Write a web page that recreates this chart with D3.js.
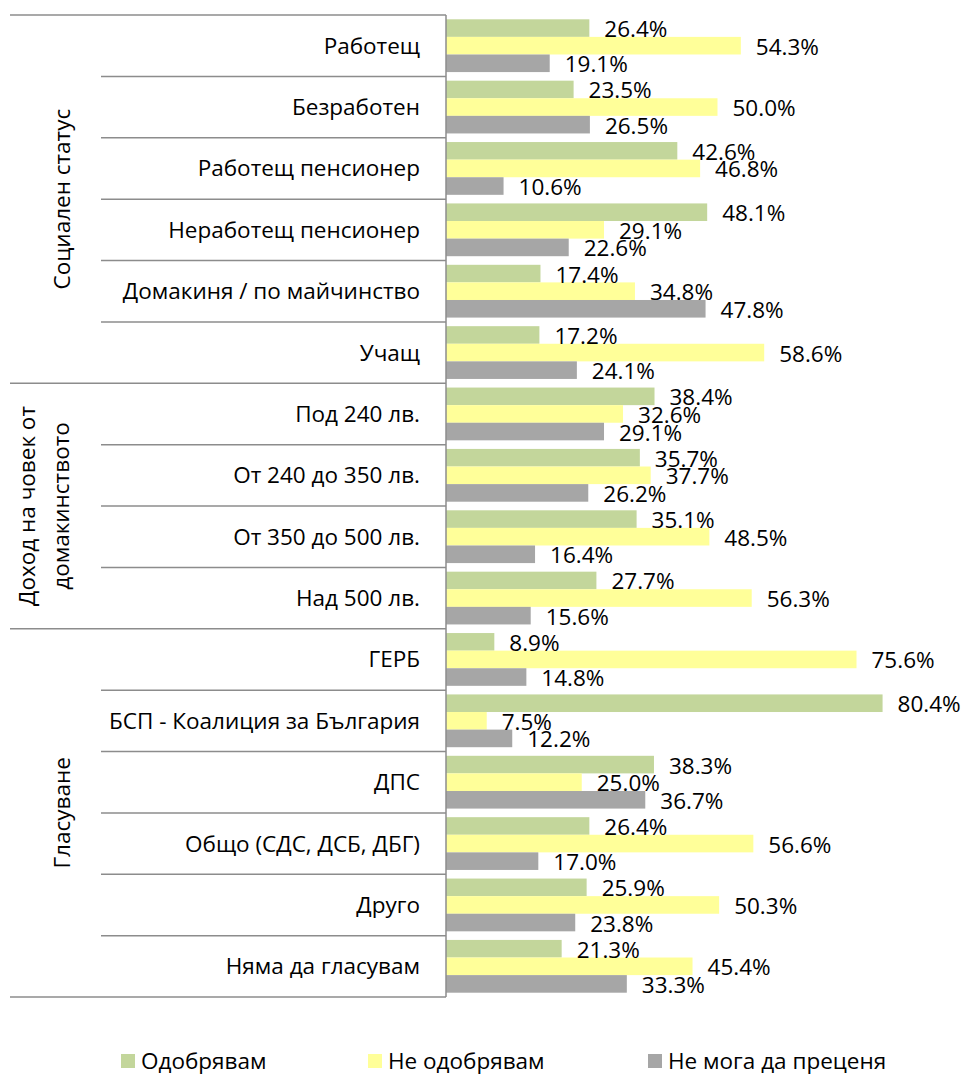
<!DOCTYPE html>
<html>
<head>
<meta charset="utf-8">
<script src="https://cdn.jsdelivr.net/npm/d3@7"></script>
<style>
    body { margin: 0; background: #fff; }
    svg text { font-family: "Open Sans", sans-serif; fill: #000; }
</style>
</head>
<body>
<div id="chart1"></div>
<script>
    // data
    const categories = [
        'Работещ', 'Безработен', 'Работещ пенсионер', 'Неработещ пенсионер',
        'Домакиня / по майчинство', 'Учащ',
        'Под 240 лв.', 'От 240 до 350 лв.', 'От 350 до 500 лв.', 'Над 500 лв.',
        'ГЕРБ', 'БСП - Коалиция за България', 'ДПС', 'Общо (СДС, ДСБ, ДБГ)',
        'Друго', 'Няма да гласувам'
    ];
    const approve = [26.4, 23.5, 42.6, 48.1, 17.4, 17.2, 38.4, 35.7, 35.1, 27.7, 8.9, 80.4, 38.3, 26.4, 25.9, 21.3];
    const disapprove = [54.3, 50.0, 46.8, 29.1, 34.8, 58.6, 32.6, 37.7, 48.5, 56.3, 75.6, 7.5, 25.0, 56.6, 50.3, 45.4];
    const cannotSay = [19.1, 26.5, 10.6, 22.6, 47.8, 24.1, 29.1, 26.2, 16.4, 15.6, 14.8, 12.2, 36.7, 17.0, 23.8, 33.3];
    const seriesNames = ['Одобрявам', 'Не одобрявам', 'Не мога да преценя'];
    const seriesColors = ['#c3d69b', '#ffff99', '#a6a6a6'];
    // groups: label lines and how many categories each spans
    const groupLabels = [['Социален статус'], ['Доход на човек от', 'домакинството'], ['Гласуване']];
    const groupSizes = [6, 4, 6];

    var chart_width = 966;
    var chart_height = 1075;

    let svg = d3.select('#chart1')
        .append('svg')
        .attr('width', chart_width)
        .attr('height', chart_height)

    const allSeries = [approve, disapprove, cannotSay];

    const y = d3.scaleBand()
        .domain(categories)
        .range([15, 997])

    const ySeries = d3.scaleBand()
        .domain(d3.range(3))
        .range([4.3, y.bandwidth() - 4.3])

    const x = d3.scaleLinear()
        .domain([0, 100])
        .range([446, 989])

    const rows = [];
    categories.forEach(function (c, i) {
        allSeries.forEach(function (s, k) {
            rows.push({ cat: c, k: k, v: s[i] });
        });
    });

    // bars
    svg.selectAll('rect.bar')
        .data(rows)
        .enter()
        .append('rect')
        .attr('class', 'bar')
        .attr('fill', d => seriesColors[d.k])
        .attr('x', x(0))
        .attr('y', d => y(d.cat) + ySeries(d.k))
        .attr('width', d => x(d.v) - x(0))
        .attr('height', ySeries.bandwidth())

    // value labels
    svg.selectAll('text.val')
        .data(rows)
        .enter()
        .append('text')
        .attr('class', 'val')
        .attr('font-size', 22.5)
        .attr('x', d => x(d.v) + 15)
        .attr('y', d => y(d.cat) + ySeries(d.k) + ySeries.bandwidth() / 2 + 9)
        .text(d => d.v.toFixed(1) + '%')

    // category separators
    const lineColor = '#8c8c8c';
    const boundaries = [0];
    groupSizes.forEach(function (n) { boundaries.push(boundaries[boundaries.length - 1] + n); });

    d3.range(categories.length + 1).forEach(function (i) {
        let yy = i < categories.length ? y(categories[i]) : y.range()[1];
        let isGroup = boundaries.indexOf(i) >= 0;
        svg.append('line')
            .attr('x1', isGroup ? 10 : 101)
            .attr('x2', x(0))
            .attr('y1', yy)
            .attr('y2', yy)
            .attr('stroke', lineColor)
            .attr('stroke-width', 1.5)
    });

    // vertical axis line
    svg.append('line')
        .attr('x1', x(0)).attr('x2', x(0))
        .attr('y1', y.range()[0]).attr('y2', y.range()[1])
        .attr('stroke', lineColor)
        .attr('stroke-width', 1.5)

    // category labels
    svg.selectAll('text.cat')
        .data(categories)
        .enter()
        .append('text')
        .attr('class', 'cat')
        .attr('font-size', 22.5)
        .attr('text-anchor', 'end')
        .attr('x', 420)
        .attr('y', d => y(d) + y.bandwidth() / 2 + 8)
        .text(d => d)

    // group labels (rotated)
    groupLabels.forEach(function (lines, g) {
        let top = y(categories[boundaries[g]]);
        let bottom = boundaries[g + 1] < categories.length ? y(categories[boundaries[g + 1]]) : y.range()[1];
        let cy = (top + bottom) / 2;
        lines.forEach(function (t, j) {
            let bx = lines.length === 1 ? 70 : (j === 0 ? 35 : 69);
            svg.append('text')
                .attr('font-size', 22.5)
                .attr('text-anchor', 'middle')
                .attr('transform', 'translate(' + bx + ',' + cy + ') rotate(-90)')
                .text(t)
        });
    });

    // legend
    const legendX = [121, 368, 648];
    seriesNames.forEach(function (name, k) {
        svg.append('rect')
            .attr('x', legendX[k])
            .attr('y', 1054)
            .attr('width', 14)
            .attr('height', 14)
            .attr('fill', seriesColors[k])
        svg.append('text')
            .attr('font-size', 22.5)
            .attr('x', legendX[k] + 20)
            .attr('y', 1069)
            .text(name)
    });
</script>
</body>
</html>
